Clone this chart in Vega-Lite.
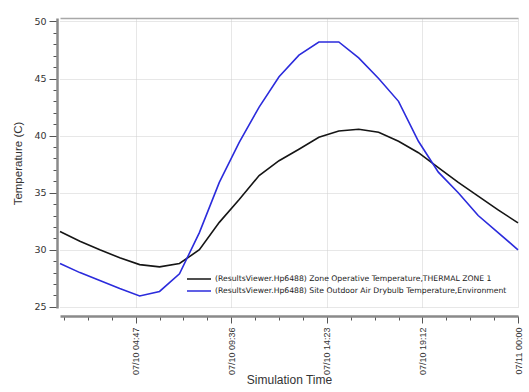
{
  "$schema": "https://vega.github.io/schema/vega-lite/v6.json",
  "width": 458,
  "height": 290,
  "autosize": {"type": "none"},
  "padding": {"left": 60, "top": 18, "right": 11, "bottom": 84},
  "background": "white",
  "datasets": {
    "temps": [
      {"hour": 1, "series": "(ResultsViewer.Hp6488) Zone Operative Temperature,THERMAL ZONE 1", "temp": 31.6},
      {"hour": 2, "series": "(ResultsViewer.Hp6488) Zone Operative Temperature,THERMAL ZONE 1", "temp": 30.75},
      {"hour": 3, "series": "(ResultsViewer.Hp6488) Zone Operative Temperature,THERMAL ZONE 1", "temp": 30.0},
      {"hour": 4, "series": "(ResultsViewer.Hp6488) Zone Operative Temperature,THERMAL ZONE 1", "temp": 29.3},
      {"hour": 5, "series": "(ResultsViewer.Hp6488) Zone Operative Temperature,THERMAL ZONE 1", "temp": 28.7},
      {"hour": 6, "series": "(ResultsViewer.Hp6488) Zone Operative Temperature,THERMAL ZONE 1", "temp": 28.5},
      {"hour": 7, "series": "(ResultsViewer.Hp6488) Zone Operative Temperature,THERMAL ZONE 1", "temp": 28.8},
      {"hour": 8, "series": "(ResultsViewer.Hp6488) Zone Operative Temperature,THERMAL ZONE 1", "temp": 30.0},
      {"hour": 9, "series": "(ResultsViewer.Hp6488) Zone Operative Temperature,THERMAL ZONE 1", "temp": 32.4},
      {"hour": 10, "series": "(ResultsViewer.Hp6488) Zone Operative Temperature,THERMAL ZONE 1", "temp": 34.4},
      {"hour": 11, "series": "(ResultsViewer.Hp6488) Zone Operative Temperature,THERMAL ZONE 1", "temp": 36.5},
      {"hour": 12, "series": "(ResultsViewer.Hp6488) Zone Operative Temperature,THERMAL ZONE 1", "temp": 37.8},
      {"hour": 13, "series": "(ResultsViewer.Hp6488) Zone Operative Temperature,THERMAL ZONE 1", "temp": 38.8},
      {"hour": 14, "series": "(ResultsViewer.Hp6488) Zone Operative Temperature,THERMAL ZONE 1", "temp": 39.85},
      {"hour": 15, "series": "(ResultsViewer.Hp6488) Zone Operative Temperature,THERMAL ZONE 1", "temp": 40.4},
      {"hour": 16, "series": "(ResultsViewer.Hp6488) Zone Operative Temperature,THERMAL ZONE 1", "temp": 40.55},
      {"hour": 17, "series": "(ResultsViewer.Hp6488) Zone Operative Temperature,THERMAL ZONE 1", "temp": 40.3},
      {"hour": 18, "series": "(ResultsViewer.Hp6488) Zone Operative Temperature,THERMAL ZONE 1", "temp": 39.5},
      {"hour": 19, "series": "(ResultsViewer.Hp6488) Zone Operative Temperature,THERMAL ZONE 1", "temp": 38.5},
      {"hour": 20, "series": "(ResultsViewer.Hp6488) Zone Operative Temperature,THERMAL ZONE 1", "temp": 37.2},
      {"hour": 21, "series": "(ResultsViewer.Hp6488) Zone Operative Temperature,THERMAL ZONE 1", "temp": 35.9},
      {"hour": 22, "series": "(ResultsViewer.Hp6488) Zone Operative Temperature,THERMAL ZONE 1", "temp": 34.7},
      {"hour": 23, "series": "(ResultsViewer.Hp6488) Zone Operative Temperature,THERMAL ZONE 1", "temp": 33.5},
      {"hour": 24, "series": "(ResultsViewer.Hp6488) Zone Operative Temperature,THERMAL ZONE 1", "temp": 32.35},
      {"hour": 1, "series": "(ResultsViewer.Hp6488) Site Outdoor Air Drybulb Temperature,Environment", "temp": 28.8},
      {"hour": 2, "series": "(ResultsViewer.Hp6488) Site Outdoor Air Drybulb Temperature,Environment", "temp": 28.0},
      {"hour": 3, "series": "(ResultsViewer.Hp6488) Site Outdoor Air Drybulb Temperature,Environment", "temp": 27.3},
      {"hour": 4, "series": "(ResultsViewer.Hp6488) Site Outdoor Air Drybulb Temperature,Environment", "temp": 26.6},
      {"hour": 5, "series": "(ResultsViewer.Hp6488) Site Outdoor Air Drybulb Temperature,Environment", "temp": 25.95},
      {"hour": 6, "series": "(ResultsViewer.Hp6488) Site Outdoor Air Drybulb Temperature,Environment", "temp": 26.35},
      {"hour": 7, "series": "(ResultsViewer.Hp6488) Site Outdoor Air Drybulb Temperature,Environment", "temp": 27.9},
      {"hour": 8, "series": "(ResultsViewer.Hp6488) Site Outdoor Air Drybulb Temperature,Environment", "temp": 31.5},
      {"hour": 9, "series": "(ResultsViewer.Hp6488) Site Outdoor Air Drybulb Temperature,Environment", "temp": 35.9},
      {"hour": 10, "series": "(ResultsViewer.Hp6488) Site Outdoor Air Drybulb Temperature,Environment", "temp": 39.4},
      {"hour": 11, "series": "(ResultsViewer.Hp6488) Site Outdoor Air Drybulb Temperature,Environment", "temp": 42.5},
      {"hour": 12, "series": "(ResultsViewer.Hp6488) Site Outdoor Air Drybulb Temperature,Environment", "temp": 45.15},
      {"hour": 13, "series": "(ResultsViewer.Hp6488) Site Outdoor Air Drybulb Temperature,Environment", "temp": 47.05},
      {"hour": 14, "series": "(ResultsViewer.Hp6488) Site Outdoor Air Drybulb Temperature,Environment", "temp": 48.2},
      {"hour": 15, "series": "(ResultsViewer.Hp6488) Site Outdoor Air Drybulb Temperature,Environment", "temp": 48.2},
      {"hour": 16, "series": "(ResultsViewer.Hp6488) Site Outdoor Air Drybulb Temperature,Environment", "temp": 46.8},
      {"hour": 17, "series": "(ResultsViewer.Hp6488) Site Outdoor Air Drybulb Temperature,Environment", "temp": 45.0},
      {"hour": 18, "series": "(ResultsViewer.Hp6488) Site Outdoor Air Drybulb Temperature,Environment", "temp": 43.0},
      {"hour": 19, "series": "(ResultsViewer.Hp6488) Site Outdoor Air Drybulb Temperature,Environment", "temp": 39.5},
      {"hour": 20, "series": "(ResultsViewer.Hp6488) Site Outdoor Air Drybulb Temperature,Environment", "temp": 36.8},
      {"hour": 21, "series": "(ResultsViewer.Hp6488) Site Outdoor Air Drybulb Temperature,Environment", "temp": 35.0},
      {"hour": 22, "series": "(ResultsViewer.Hp6488) Site Outdoor Air Drybulb Temperature,Environment", "temp": 33.0},
      {"hour": 23, "series": "(ResultsViewer.Hp6488) Site Outdoor Air Drybulb Temperature,Environment", "temp": 31.5},
      {"hour": 24, "series": "(ResultsViewer.Hp6488) Site Outdoor Air Drybulb Temperature,Environment", "temp": 30.0}
    ]
  },
  "data": {"name": "temps"},
  "layer": [
    {
      "mark": {"type": "line", "opacity": 0},
      "encoding": {
        "x": {
          "field": "hour", "type": "quantitative",
          "scale": {"domain": [1, 24], "nice": false, "zero": false},
          "axis": {
            "orient": "top", "title": null, "labels": false, "ticks": false, "grid": false,
            "domainColor": "#a8a8a8", "domainWidth": 1.5
          }
        },
        "y": {"field": "temp", "type": "quantitative", "axis": null},
        "detail": {"field": "series"}
      }
    },
    {
      "mark": {"type": "line", "opacity": 0},
      "encoding": {
        "x": {
          "field": "hour", "type": "quantitative",
          "axis": {
            "orient": "bottom", "title": null, "labels": false, "grid": false, "domain": false,
            "values": [1.2, 2.4, 3.6, 6.0, 7.2, 8.4, 10.8, 12.0, 13.2, 15.6, 16.8, 18.0, 20.4, 21.6, 22.8],
            "tickSize": 4, "tickColor": "#555", "tickWidth": 1, "offset": 8
          }
        },
        "y": {
          "field": "temp", "type": "quantitative",
          "axis": {
            "orient": "left", "title": null, "labels": false, "grid": false, "domain": false,
            "values": [26, 27, 28, 29, 31, 32, 33, 34, 36, 37, 38, 39, 41, 42, 43, 44, 46, 47, 48, 49],
            "tickSize": 4, "tickColor": "#555", "tickWidth": 1, "offset": 3
          }
        },
        "detail": {"field": "series"}
      }
    },
    {
      "mark": {"type": "line", "strokeWidth": 1.6},
      "encoding": {
        "x": {
          "field": "hour", "type": "quantitative",
          "axis": {
            "orient": "bottom",
            "title": "Simulation Time",
            "values": [4.8, 9.6, 14.4, 19.2, 24],
            "labelExpr": "['07/10 04:47','07/10 09:36','07/10 14:23','07/10 19:12','07/11 00:00'][round(datum.value/4.8)-1]",
            "labelAngle": 270,
            "labelFont": "Liberation Sans", "labelFontSize": 9, "labelColor": "#333",
            "labelPadding": 4,
            "tickSize": 7, "tickColor": "#555", "tickWidth": 1,
            "domainColor": "#8a8a8a", "domainWidth": 2.5,
            "offset": 8,
            "grid": true, "gridColor": "#cfcfcf", "gridDash": [1, 1], "gridWidth": 1,
            "titleFont": "Liberation Sans", "titleFontSize": 12, "titleFontWeight": "normal", "titleColor": "#333",
            "titlePadding": 0
          }
        },
        "y": {
          "field": "temp", "type": "quantitative",
          "scale": {"domain": [24.9, 50.3], "nice": false, "zero": false},
          "axis": {
            "orient": "left",
            "title": "Temperature (C)",
            "values": [25, 30, 35, 40, 45, 50],
            "labelFont": "DejaVu Sans", "labelFontSize": 9.5, "labelColor": "#333",
            "labelPadding": 3,
            "tickSize": 8, "tickColor": "#555", "tickWidth": 1,
            "domainColor": "#8a8a8a", "domainWidth": 2.5,
            "offset": 3,
            "grid": true, "gridColor": "#cfcfcf", "gridDash": [1, 1], "gridWidth": 1,
            "titleFont": "Liberation Sans", "titleFontSize": 11.5, "titleFontWeight": "normal", "titleColor": "#333",
            "titlePadding": 10
          }
        },
        "color": {
          "field": "series", "type": "nominal",
          "scale": {
            "domain": [
              "(ResultsViewer.Hp6488) Zone Operative Temperature,THERMAL ZONE 1",
              "(ResultsViewer.Hp6488) Site Outdoor Air Drybulb Temperature,Environment"
            ],
            "range": ["#151515", "#2b2bdc"]
          },
          "legend": {
            "orient": "none", "legendX": 126, "legendY": 255,
            "title": null,
            "symbolType": "stroke", "symbolSize": 576, "symbolStrokeWidth": 1.5,
            "labelFont": "DejaVu Sans", "labelFontSize": 7.7, "labelColor": "#222",
            "labelOffset": 3, "clipHeight": 12, "rowPadding": 0, "labelLimit": 400
          }
        }
      }
    }
  ],
  "resolve": {"axis": {"x": "independent", "y": "independent"}},
  "config": {"view": {"stroke": null}}
}
